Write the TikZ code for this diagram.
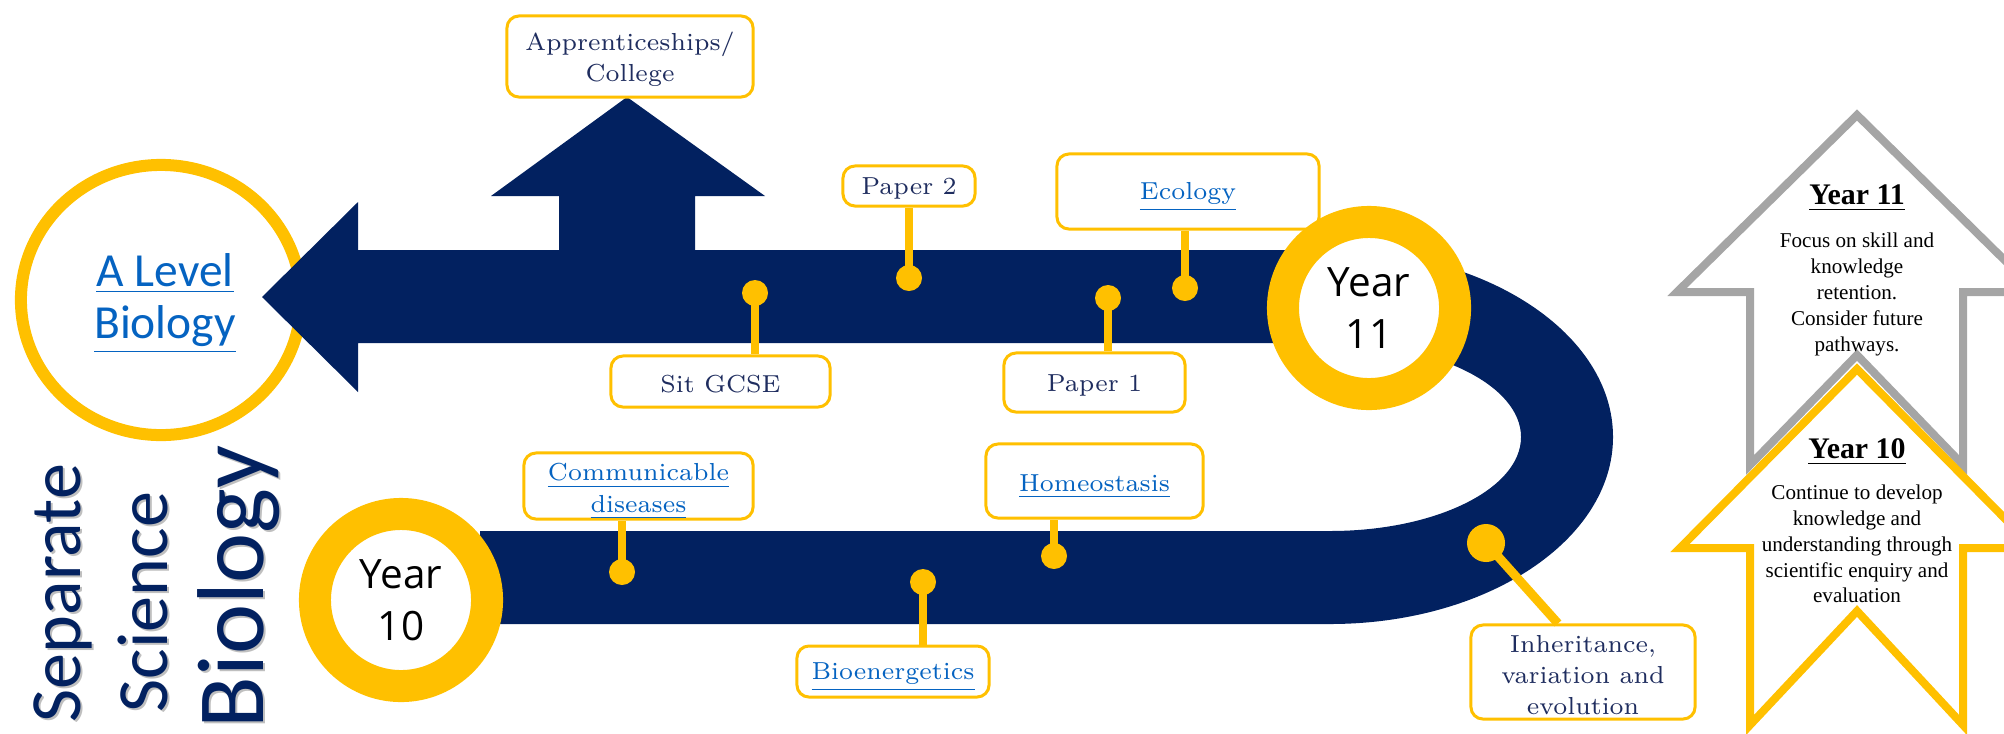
\documentclass[tikz,border=0pt]{standalone}
\usepackage{fontspec}
\usetikzlibrary{shapes.geometric}
\newfontfamily\carlito{Carlito}
\newfontfamily\osans{Open Sans}
\newfontfamily\tnr{Liberation Serif}
\definecolor{navy}{RGB}{2,33,96}
\definecolor{gold}{RGB}{255,192,0}
\definecolor{txtnavy}{RGB}{31,45,95}
\definecolor{linkblue}{RGB}{5,99,193}
\definecolor{arrowgray}{RGB}{165,165,165}
\newcommand\lnk[1]{\raisebox{-1.6pt}[\height][\depth]{\textcolor{linkblue}{\underline{#1}}}}
\newcommand\pl[1]{\raisebox{-0.8pt}[\height][\depth]{#1}}
\tikzset{
  lbl/.style={draw=gold, line width=0.03cm, rounded corners=0.12cm, fill=white, inner sep=0pt, align=center, font=\fontsize{7}{9}\selectfont, text=txtnavy},
  knob/.style={circle, fill=gold, inner sep=0pt, minimum size=0.26cm},
  stick/.style={gold, line width=0.08cm},
  ring/.style={circle, draw=gold, line width=0.32cm, fill=white, minimum size=1.72cm, inner sep=0pt, align=center, font=\osans\fontsize{11.5}{14.8}\selectfont},
  vtext/.style={rotate=90, anchor=base west, inner sep=0pt, text=navy},
  vshadow/.style={rotate=90, anchor=base west, inner sep=0pt, text=black!25},
  chev/.style={line width=0.08cm, miter limit=10},
  chevtxt/.style={align=center, inner sep=0pt, font=\tnr\fontsize{6}{7.33}\selectfont},
  chevhead/.style={inner sep=0pt, font=\tnr\bfseries\fontsize{8.5}{10}\selectfont},
}
\begin{document}
\begin{tikzpicture}[x=0.01cm, y=-0.01cm]
\useasboundingbox (0,0) rectangle (2004,733);

% A Level Biology circle
\node[ellipse, draw=gold, line width=0.12cm, fill=white, minimum width=2.8cm, minimum height=2.7cm, inner sep=0pt] (alevel) at (161,300) {};
\node[align=center, inner sep=0pt, font=\carlito\fontsize{13.5}{14.8}\selectfont] (aleveltxt) at (165,298) {\lnk{A Level}\\\lnk{Biology}};

% main band with arrows
\fill[navy] (262,297) -- (358,202) -- (358,250) -- (559,250) -- (559,196) -- (491,196) -- (627,97)
  -- (765,196) -- (695,196) -- (695,250) -- (1330,250)
  .. controls (1486.3,250) and (1613,333.7) .. (1613,437)
  .. controls (1613,540.3) and (1486.3,624) .. (1330,624)
  -- (480,624) -- (480,531) -- (1330,531)
  .. controls (1435.5,531) and (1521,488.9) .. (1521,437)
  .. controls (1521,385.1) and (1435.5,343) .. (1330,343)
  -- (358,343) -- (358,392) -- cycle;

% label boxes
\node[lbl, minimum width=2.46cm, minimum height=0.81cm] (appr) at (630,56.5) {\pl{Apprenticeships/}\\\pl{College}};
\node[lbl, minimum width=1.32cm, minimum height=0.40cm] (paper2) at (909,186) {\pl{Paper 2}};
\node[lbl, minimum width=2.19cm, minimum height=0.51cm] (sitgcse) at (720.5,381.5) {\pl{Sit GCSE}};
\node[lbl, minimum width=1.81cm, minimum height=0.59cm] (paper1) at (1094.5,382.5) {\pl{Paper 1}};
\node[lbl, minimum width=2.62cm, minimum height=0.75cm] (ecology) at (1188,191.5) {\lnk{Ecology}};
\node[lbl, minimum width=2.29cm, minimum height=0.66cm] (comm) at (638.5,486) {\lnk{Communicable}\\\lnk{diseases}};
\node[lbl, minimum width=2.17cm, minimum height=0.74cm] (homeo) at (1094.5,481) {\lnk{Homeostasis}};
\node[lbl, minimum width=1.92cm, minimum height=0.51cm] (bioen) at (893,671.5) {\lnk{Bioenergetics}};
\node[lbl, minimum width=2.24cm, minimum height=0.94cm, font=\fontsize{7}{8.8}\selectfont] (inher) at (1583,672) {\pl{Inheritance,}\\\pl{variation and}\\\pl{evolution}};

% dots
\node[knob] (dpaper2) at (909,278) {};
\node[knob] (dsit) at (755,293) {};
\node[knob] (dpaper1) at (1108,298) {};
\node[knob] (decol) at (1185,288) {};
\node[knob] (dcomm) at (622,572) {};
\node[knob] (dhomeo) at (1054,556) {};
\node[knob] (dbioen) at (923,582) {};
\node[knob, minimum size=0.38cm] (dinher) at (1486,543) {};

% connectors
\draw[stick] (dpaper2.center) -- (dpaper2.center |- paper2.south);
\draw[stick] (dsit.center) -- (dsit.center |- sitgcse.north);
\draw[stick] (dpaper1.center) -- (dpaper1.center |- paper1.north);
\draw[stick] (decol.center) -- (decol.center |- ecology.south);
\draw[stick] (dcomm.center) -- (dcomm.center |- comm.south);
\draw[stick] (dhomeo.center) -- (dhomeo.center |- homeo.south);
\draw[stick] (dbioen.center) -- (dbioen.center |- bioen.north);
\draw[stick, line width=0.09cm] (dinher.center) -- ([xshift=-0.25cm]inher.north);

% year rings
\node[ring] (y11) at (1369,308) {Year\\11};
\node[ring] (y10) at (401,600) {Year\\10};

% vertical title
\node[vshadow, font=\carlito\fontsize{20.5}{20}\selectfont] (seps) at (82,725) {Separate};
\node[vshadow, font=\carlito\fontsize{20.5}{20}\selectfont] (scis) at (169,715) {Science};
\node[vshadow, font=\carlito\fontsize{27}{27}\selectfont] (bios) at (265,731) {Biology};
\node[vtext, font=\carlito\fontsize{20.5}{20}\selectfont] (sep) at (80,723) {Separate};
\node[vtext, font=\carlito\fontsize{20.5}{20}\selectfont] (sci) at (167,713) {Science};
\node[vtext, font=\carlito\fontsize{27}{27}\selectfont] (bio) at (263,729) {Biology};

% right chevrons
\begin{scope}
\clip (0,0) rectangle (2004,733);
\draw[chev, arrowgray, fill=white] (1857,115) -- (2037,292) -- (1963,292) -- (1963,465) -- (1857,355)
  -- (1750,465) -- (1750,292) -- (1677,292) -- cycle;
\draw[chev, gold] (1857,369) -- (2034,548) -- (1963,548) -- (1963,725) -- (1857,611)
  -- (1750,725) -- (1750,548) -- (1680,548) -- cycle;
\end{scope}
\node[chevhead] (h11) at (1857,198) {\underline{Year 11}};
\node[chevtxt] (t11) at (1857,294.5) {Focus on skill and\\knowledge\\retention.\\Consider future\\pathways.};
\node[chevhead] (h10) at (1857,452) {\underline{Year 10}};
\node[chevtxt] (t10) at (1857,544) {Continue to develop\\knowledge and\\understanding through\\scientific enquiry and\\evaluation};
\end{tikzpicture}
\end{document}
